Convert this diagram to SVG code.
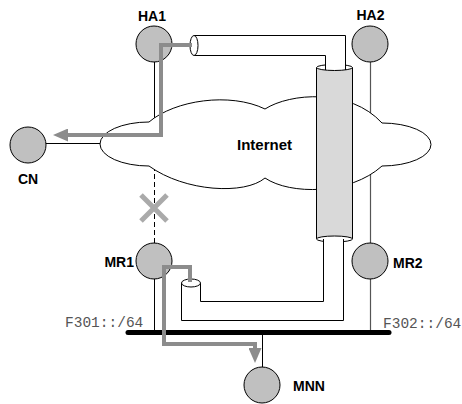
<svg xmlns="http://www.w3.org/2000/svg" width="462" height="404" viewBox="0 0 462 404">
<style>
.ln{stroke:#000;stroke-width:1;fill:none}
.lg{stroke:#555;stroke-width:1.2;fill:none}
.node{fill:#c0c0c0;stroke:#000;stroke-width:1}
.lbl{font-family:"Liberation Sans",Arial,sans-serif;font-weight:bold;font-size:14px;fill:#000}
.pfx{font-family:"Liberation Mono","Courier New",monospace;font-size:14.5px;fill:#555}
.route{stroke:#8c8c8c;stroke-width:4;fill:none}
.pipe{fill:#fff;stroke:none}
.cap{fill:#fff;stroke:#000;stroke-width:1}
</style>
<defs>
<marker id="ah" viewBox="0 0 15 13" markerWidth="15" markerHeight="13" markerUnits="userSpaceOnUse" refX="3" refY="6.5" orient="auto">
<path d="M0,0 L15,6.5 L0,13 z" fill="#8c8c8c"/>
</marker>
</defs>
<g id="links">
<line class="ln" x1="154.5" y1="62" x2="154.5" y2="126"/>
<line class="ln" x1="46" y1="143.5" x2="106" y2="143.5"/>
<line class="lg" x1="370.5" y1="62" x2="370.5" y2="243"/>
<line class="ln" x1="154.5" y1="166" x2="154.5" y2="243" stroke-dasharray="5,3"/>
<line class="ln" x1="154.5" y1="279" x2="154.5" y2="332"/>
<line class="lg" x1="370.5" y1="279" x2="370.5" y2="332"/>
<line class="ln" x1="262.5" y1="332" x2="262.5" y2="367"/>
</g>
<g id="internet">
<path d="M149 122 C175 100 230 92 265 109 C290 93 350 88 382 123 A49 21.5 0 0 1 382 166 C350 195 290 195 265 178 C245 195 185 192 149 166 A49 22 0 0 1 149 122 Z" fill="#fff" stroke="#000" stroke-width="1"/>
<text class="lbl" x="237" y="150" style="font-size:15px">Internet</text>
</g>
<g id="tunnel">
<rect x="316" y="67.5" width="36" height="171.5" fill="#d9d9d9"/>
<line class="ln" x1="316.5" y1="67.5" x2="316.5" y2="239"/>
<line class="ln" x1="352.5" y1="67.5" x2="352.5" y2="239"/>
<ellipse class="cap" cx="334.5" cy="67.5" rx="18" ry="3"/>
<ellipse class="cap" cx="334.5" cy="239" rx="18" ry="3"/>
<polygon class="pipe" points="194,35 345,35 345,68 325,68 325,55 194,55"/>
<path class="ln" d="M194 35.5 H345.5 V70 M194 55.5 H325.5 V70"/>
<ellipse class="cap" cx="194" cy="45.5" rx="4" ry="10"/>
<polygon class="pipe" points="323,239 343,239 343,320 181,320 181,283 200,283 200,301 323,301"/>
<path class="ln" d="M323.5 239 V301.5 H200.5 V283 M343.5 239 V320.5 H181.5 V283"/>
<ellipse class="cap" cx="191" cy="283" rx="9.5" ry="4"/>
</g>
<g id="bus">
<line x1="128" y1="332.5" x2="389" y2="332.5" stroke="#000" stroke-width="5" stroke-linecap="round"/>
<text class="pfx" x="65" y="327">F301::/64</text>
<text class="pfx" x="383" y="328">F302::/64</text>
</g>
<g id="cross">
<path d="M141 195 L167 221 M167 195 L141 221" stroke="#aaa" stroke-width="5" fill="none"/>
</g>
<g id="HA1">
<circle class="node" cx="154" cy="44" r="18"/>
<text class="lbl" x="152" y="21" text-anchor="middle">HA1</text>
</g>
<g id="HA2">
<circle class="node" cx="370" cy="44" r="18"/>
<text class="lbl" x="370.5" y="20" text-anchor="middle">HA2</text>
</g>
<g id="CN">
<circle class="node" cx="28" cy="145" r="18"/>
<text class="lbl" x="28" y="184" text-anchor="middle">CN</text>
</g>
<g id="MR1">
<circle class="node" cx="154" cy="261" r="18"/>
<text class="lbl" x="134" y="267" text-anchor="end">MR1</text>
</g>
<g id="MR2">
<circle class="node" cx="370" cy="261" r="18"/>
<text class="lbl" x="393" y="268">MR2</text>
</g>
<g id="MNN">
<circle class="node" cx="262" cy="385" r="18"/>
<text class="lbl" x="293" y="391">MNN</text>
</g>
<g id="connectors">
<path class="route" d="M192 45 H161 V135 H65" marker-end="url(#ah)"/>
<path class="route" d="M190 282 V267 H164 V344 H255 V351" marker-end="url(#ah)"/>
</g>
</svg>
